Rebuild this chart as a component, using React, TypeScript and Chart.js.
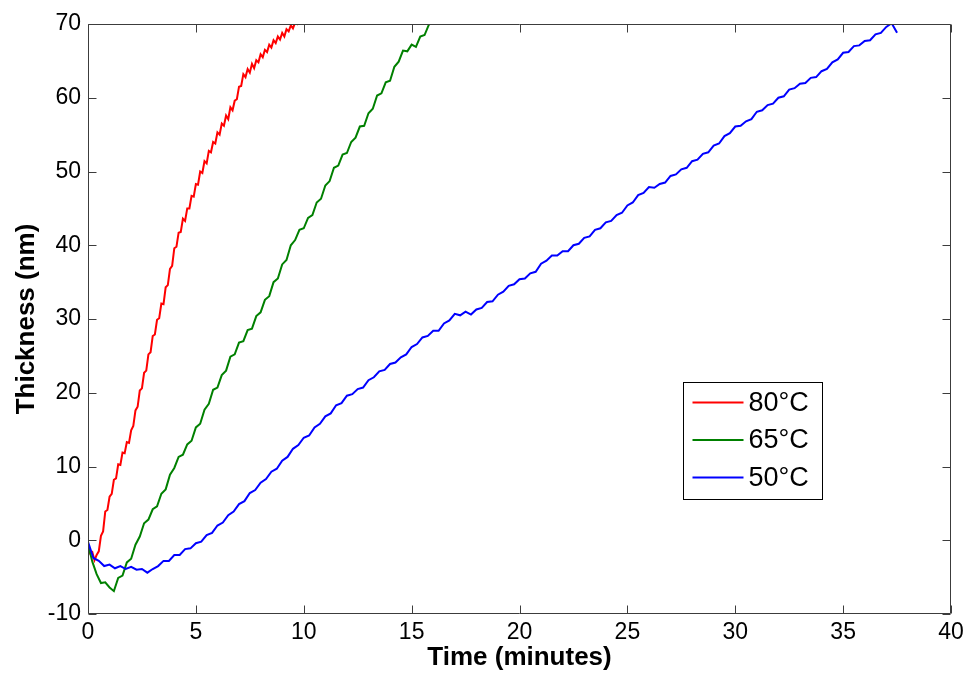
import React, { useEffect, useRef } from 'react';
import { Chart, registerables } from 'chart.js';

Chart.register(...registerables);

// ---- data ----
const SERIES_LABELS = ['80°C', '65°C', '50°C'];
const SERIES_COLORS = ['#ff0000', '#008000', '#0000ff'];

// sample spacing (minutes) of each recorded trace
const RED_STEP = 0.1;
const GREEN_STEP = 0.2;
const BLUE_STEP = 0.25;

// 80°C thickness (nm), t = 0 .. 9.9 min
const RED_VALUES = [
  -1.0, -1.8, -1.6, -2.7, -2.0, -1.5, 0.6, 1.2, 3.9, 4.1,
  5.9, 6.3, 8.2, 8.4, 10.3, 10.2, 11.9, 11.8, 13.3, 13.2,
  14.9, 15.5, 17.6, 18.1, 20.3, 20.6, 22.7, 23.0, 25.2, 25.5,
  27.7, 27.9, 29.9, 30.1, 32.1, 32.0, 34.3, 34.6, 36.8, 37.2,
  39.6, 39.8, 41.7, 41.8, 43.6, 43.3, 45.0, 45.0, 46.7, 46.6,
  48.3, 48.2, 50.0, 49.8, 51.4, 51.1, 52.8, 52.6, 54.0, 53.8,
  55.3, 55.0, 56.5, 56.2, 57.6, 57.1, 58.7, 58.3, 59.6, 59.8,
  61.5, 61.6, 63.2, 62.8, 63.9, 63.4, 64.6, 64.0, 65.1, 64.8,
  65.9, 65.5, 66.5, 66.2, 67.2, 66.8, 67.8, 67.4, 68.3, 67.9,
  68.8, 68.3, 69.3, 69.0, 69.8, 69.4, 70.2, 70.0, 70.6, 70.4,
];

// 65°C thickness (nm), t = 0 .. 16 min
const GREEN_VALUES = [
  -0.5, -2.9, -4.6, -5.8, -5.7, -6.4, -6.9, -5.1, -4.8, -3.0,
  -2.5, -0.6, 0.5, 2.3, 2.8, 4.2, 4.6, 6.3, 6.9, 8.9,
  9.8, 11.3, 11.6, 13.0, 13.5, 15.3, 15.8, 17.7, 18.5, 20.4,
  20.7, 22.4, 23.0, 24.9, 25.2, 26.8, 27.0, 28.5, 28.7, 30.4,
  30.9, 32.6, 33.1, 35.0, 35.5, 37.4, 38.0, 40.0, 40.7, 42.1,
  42.3, 43.7, 44.1, 45.8, 46.3, 48.1, 48.7, 50.5, 50.8, 52.3,
  52.5, 54.0, 54.6, 56.1, 56.2, 57.9, 58.5, 60.3, 60.6, 62.1,
  62.3, 64.2, 64.9, 66.4, 66.3, 67.2, 66.9, 68.3, 68.5, 69.9,
  70.3,
];

// 50°C thickness (nm), t = 0 .. 37.5 min
const BLUE_VALUES = [
  -0.2, -2.4, -2.8, -3.5, -3.3, -3.8, -3.5, -3.9, -3.6, -4.0,
  -3.9, -4.4, -3.9, -3.5, -2.8, -2.8, -2.0, -2.0, -1.2, -1.1,
  -0.4, -0.2, 0.7, 1.0, 2.0, 2.4, 3.4, 3.9, 4.9, 5.3,
  6.4, 6.8, 7.8, 8.3, 9.3, 9.7, 10.8, 11.3, 12.4, 12.9,
  13.9, 14.2, 15.3, 15.8, 16.8, 17.2, 18.3, 18.6, 19.6, 19.8,
  20.5, 20.7, 21.7, 22.1, 22.9, 23.1, 23.9, 24.1, 24.8, 25.2,
  26.2, 26.6, 27.5, 27.7, 28.4, 28.4, 29.4, 29.8, 30.7, 30.5,
  31.0, 30.6, 31.3, 31.5, 32.3, 32.4, 33.3, 33.7, 34.5, 34.7,
  35.4, 35.5, 36.2, 36.4, 37.5, 37.9, 38.6, 38.6, 39.2, 39.2,
  40.0, 40.2, 41.0, 41.2, 42.1, 42.3, 43.1, 43.3, 44.1, 44.4,
  45.4, 45.8, 46.8, 47.1, 47.9, 47.8, 48.3, 48.5, 49.4, 49.6,
  50.3, 50.5, 51.4, 51.6, 52.4, 52.6, 53.5, 53.8, 54.8, 55.2,
  56.1, 56.2, 56.8, 57.1, 58.1, 58.3, 59.0, 59.2, 60.0, 60.2,
  61.1, 61.3, 61.9, 62.0, 62.7, 62.8, 63.6, 63.9, 64.8, 65.2,
  66.1, 66.2, 67.0, 67.1, 67.7, 67.8, 68.6, 68.8, 69.6, 70.1,
  68.8,
];

const X_TICKS = [0, 5, 10, 15, 20, 25, 30, 35, 40];
const Y_TICKS = [-10, 0, 10, 20, 30, 40, 50, 60, 70];

const FONT_FAMILY = '"Liberation Sans", Arial, Helvetica, sans-serif';

const toPoints = (vals: number[], step: number) =>
  vals.map((v, i) => ({ x: Math.round(i * step * 1000) / 1000, y: v }));

// MATLAB-like box with inward tick marks on all four sides + legend inside axes
const framePlugin = {
  id: 'matlabFrame',
  afterDatasetsDraw(chart: any) {
    const { ctx, chartArea: a, scales } = chart;
    const xs = scales.x;
    const ys = scales.y;
    const L = Math.round(a.left) + 0.5;
    const R = Math.round(a.right) - 0.5;
    const T = Math.round(a.top) + 0.5;
    const B = Math.round(a.bottom) - 0.5;
    const TL = 8;
    ctx.save();
    ctx.strokeStyle = '#3c3c3c';
    ctx.lineWidth = 1;
    ctx.beginPath();
    ctx.rect(L, T, R - L, B - T);
    X_TICKS.forEach((v) => {
      const px = Math.round(xs.getPixelForValue(v)) + 0.5;
      ctx.moveTo(px, B);
      ctx.lineTo(px, B - TL);
      ctx.moveTo(px, T);
      ctx.lineTo(px, T + TL);
    });
    Y_TICKS.forEach((v) => {
      const py = Math.round(ys.getPixelForValue(v)) + 0.5;
      ctx.moveTo(L, py);
      ctx.lineTo(L + TL, py);
      ctx.moveTo(R, py);
      ctx.lineTo(R - TL, py);
    });
    ctx.stroke();

    // legend
    const w = a.right - a.left;
    const h = a.bottom - a.top;
    const bl = Math.round(a.left + 0.689 * w) + 0.5;
    const bt = Math.round(a.top + 0.606 * h) + 0.5;
    const br = Math.round(a.left + 0.850 * w) + 0.5;
    const bb = Math.round(a.top + 0.805 * h) + 0.5;
    ctx.fillStyle = '#ffffff';
    ctx.fillRect(bl, bt, br - bl, bb - bt);
    ctx.strokeStyle = '#000000';
    ctx.lineWidth = 1;
    ctx.strokeRect(bl, bt, br - bl, bb - bt);
    ctx.font = `27px ${FONT_FAMILY}`;
    ctx.textBaseline = 'middle';
    ctx.textAlign = 'left';
    chart.data.datasets.forEach((ds: any, i: number) => {
      const cy = bt + 20 + i * 37.5;
      ctx.strokeStyle = ds.borderColor;
      ctx.lineWidth = 2;
      ctx.beginPath();
      ctx.moveTo(bl + 9, cy);
      ctx.lineTo(bl + 60, cy);
      ctx.stroke();
      ctx.fillStyle = '#000000';
      ctx.fillText(ds.label, bl + 65, cy + 1);
    });
    ctx.restore();
  },
};

export default function App() {
  const canvasRef = useRef<HTMLCanvasElement | null>(null);

  useEffect(() => {
    const canvas = canvasRef.current;
    if (!canvas) return;
    const seriesValues = [RED_VALUES, GREEN_VALUES, BLUE_VALUES];
    const seriesSteps = [RED_STEP, GREEN_STEP, BLUE_STEP];
    const chart = new Chart(canvas, {
      type: 'line',
      data: {
        datasets: SERIES_LABELS.map((label, i) => ({
          label,
          data: toPoints(seriesValues[i], seriesSteps[i]),
          borderColor: SERIES_COLORS[i],
          backgroundColor: SERIES_COLORS[i],
          borderWidth: 2,
          pointRadius: 0,
          tension: 0,
          fill: false,
          order: 2 - i,
        })),
      },
      options: {
        animation: false,
        responsive: false,
        maintainAspectRatio: false,
        layout: { padding: { top: 24, right: 16, left: 0, bottom: 0 } },
        plugins: {
          legend: { display: false },
          tooltip: { enabled: false },
        },
        scales: {
          x: {
            type: 'linear',
            min: 0,
            max: 40,
            afterFit: (s: any) => {
              s.height = 60;
              s.paddingLeft = 0;
              s.paddingRight = 0;
            },
            afterBuildTicks: (s: any) => {
              s.ticks = X_TICKS.map((v) => ({ value: v }));
            },
            ticks: {
              color: '#000000',
              padding: 5,
              maxRotation: 0,
              font: { family: FONT_FAMILY, size: 23 },
            },
            grid: { display: false, drawTicks: false },
            border: { display: false },
            title: {
              display: true,
              text: 'Time (minutes)',
              color: '#000000',
              font: { family: FONT_FAMILY, size: 26, weight: 'bold' },
              padding: { top: 0, bottom: 1 },
            },
          },
          y: {
            type: 'linear',
            min: -10,
            max: 70,
            afterFit: (s: any) => {
              s.width = 88;
              s.paddingTop = 0;
              s.paddingBottom = 0;
            },
            afterBuildTicks: (s: any) => {
              s.ticks = Y_TICKS.map((v) => ({ value: v }));
            },
            ticks: {
              color: '#000000',
              padding: 7,
              font: { family: FONT_FAMILY, size: 23 },
            },
            grid: { display: false, drawTicks: false },
            border: { display: false },
            title: {
              display: true,
              text: 'Thickness (nm)',
              color: '#000000',
              font: { family: FONT_FAMILY, size: 26, weight: 'bold' },
              padding: { top: 11, bottom: 0 },
            },
          },
        },
      },
      plugins: [framePlugin],
    });
    return () => chart.destroy();
  }, []);

  return (
    <div style={{ position: 'fixed', left: 0, top: 0, width: 967, height: 674, background: '#ffffff' }}>
      <canvas ref={canvasRef} width={967} height={674} style={{ display: 'block' }} />
    </div>
  );
}
